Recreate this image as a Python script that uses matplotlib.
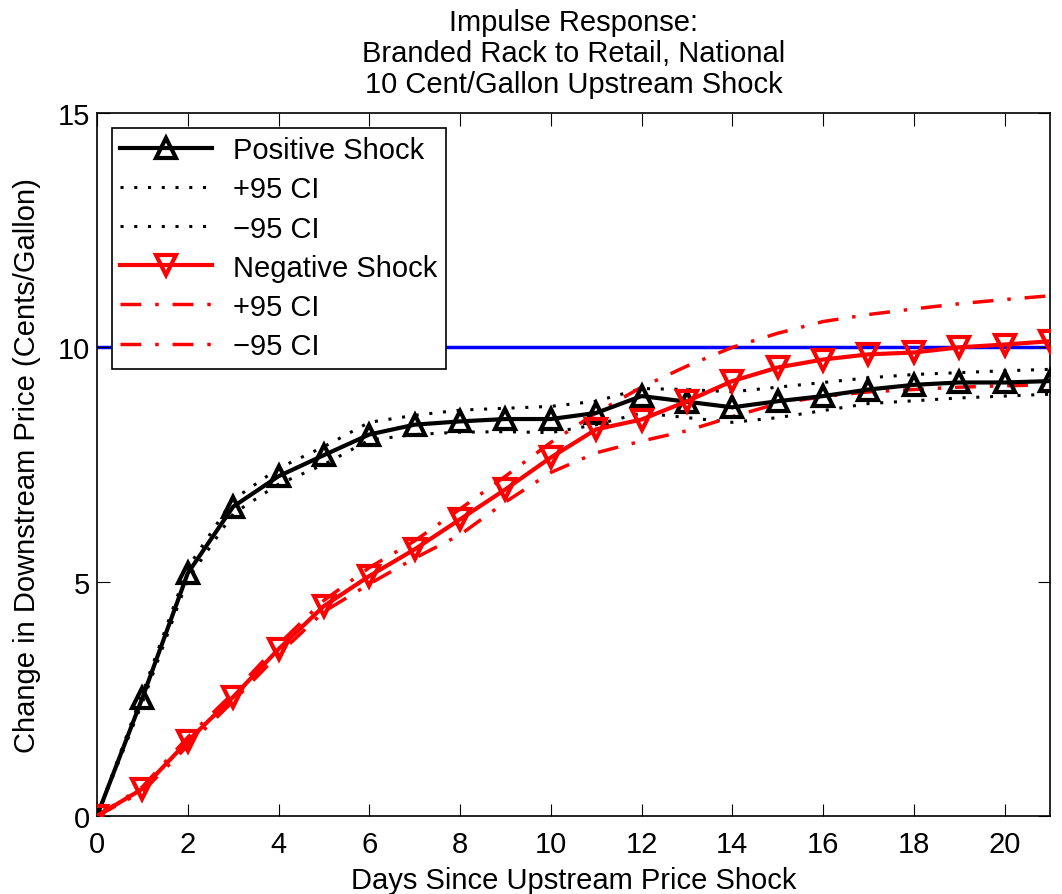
import matplotlib
matplotlib.use("Agg")
import matplotlib.pyplot as plt
import numpy as np

plt.rcParams['font.family'] = ['Liberation Sans', 'DejaVu Sans']

# data
days = np.arange(0, 22)
pos_shock = [0, 2.52, 5.18, 6.6, 7.25, 7.7, 8.14, 8.35, 8.42, 8.47, 8.47, 8.6, 8.96,
             8.84, 8.72, 8.85, 8.96, 9.1, 9.2, 9.25, 9.25, 9.28]
pos_hi = [0, 2.62, 5.3, 6.75, 7.42, 7.88, 8.4, 8.55, 8.66, 8.7, 8.74, 8.85, 9.12,
          9.1, 9.05, 9.15, 9.25, 9.35, 9.42, 9.46, 9.5, 9.53]
pos_lo = [0, 2.42, 5.05, 6.45, 7.08, 7.5, 8.02, 8.14, 8.19, 8.2, 8.18, 8.35, 8.6,
          8.5, 8.4, 8.5, 8.65, 8.8, 8.86, 8.92, 8.96, 9.0]
neg_shock = [0, 0.58, 1.6, 2.54, 3.56, 4.48, 5.12, 5.69, 6.33, 6.97, 7.65, 8.25, 8.46,
             8.85, 9.28, 9.57, 9.74, 9.85, 9.89, 10.0, 10.06, 10.13]
neg_hi = [0, 0.62, 1.68, 2.62, 3.66, 4.6, 5.3, 5.87, 6.55, 7.25, 7.97, 8.6, 9.15,
          9.6, 10.0, 10.3, 10.55, 10.7, 10.82, 10.93, 11.02, 11.1]
neg_lo = [0, 0.52, 1.5, 2.45, 3.45, 4.36, 4.95, 5.5, 6.0, 6.7, 7.33, 7.75, 8.0,
          8.22, 8.52, 8.8, 8.95, 9.05, 9.1, 9.15, 9.18, 9.2]
shock_size = 10

FS = 21

fig = plt.figure(figsize=(10.62, 8.95), dpi=100)
ax = fig.add_axes([97 / 1062, 1 - 817 / 895, (1050 - 97) / 1062, (817 - 114) / 895])

ax.plot(days, [shock_size] * len(days), color='blue', lw=2.5, zorder=1)
ax.plot(days, pos_shock, color='black', lw=3, marker='^', ms=15, mfc='none',
        mew=3, label='Positive Shock', zorder=4)
ax.plot(days, pos_hi, color='black', lw=2.2, ls=(0, (1, 3.5)), label='+95 CI', zorder=3)
ax.plot(days, pos_lo, color='black', lw=2.2, ls=(0, (1, 3.5)), label='\u221295 CI', zorder=3)
ax.plot(days, neg_shock, color='red', lw=3, marker='v', ms=15, mfc='none',
        mew=3, label='Negative Shock', zorder=5)
ax.plot(days, neg_hi, color='red', lw=2.5, ls=(0, (6, 4, 1, 4)), label='+95 CI', zorder=3)
ax.plot(days, neg_lo, color='red', lw=2.5, ls=(0, (6, 4, 1, 4)), label='\u221295 CI', zorder=3)

ax.set_xlim(0, 21)
ax.set_ylim(0, 15)
ax.set_xticks(np.arange(0, 21, 2))
ax.set_yticks([0, 5, 10, 15])
ax.tick_params(direction='in', top=True, right=True, length=9, labelsize=FS)
ax.tick_params(axis='x', pad=10)
ax.tick_params(axis='y', pad=5)
for s in ax.spines.values():
    s.set_linewidth(1.2)

ax.set_xlabel('Days Since Upstream Price Shock', fontsize=FS, labelpad=6)
ax.set_ylabel('Change in Downstream Price (Cents/Gallon)', fontsize=FS, labelpad=12)
ax.set_title('Impulse Response:\nBranded Rack to Retail, National\n10 Cent/Gallon Upstream Shock',
             fontsize=FS, linespacing=1.13, pad=15)

leg = ax.legend(loc='upper left', fontsize=FS, numpoints=1, handlelength=3.15,
                fancybox=False, framealpha=1, edgecolor='black',
                borderaxespad=0.5, labelspacing=0.38, handletextpad=0.7,
                borderpad=0.3)
leg.get_frame().set_linewidth(1.2)

fig.savefig('out.png', dpi=100)
